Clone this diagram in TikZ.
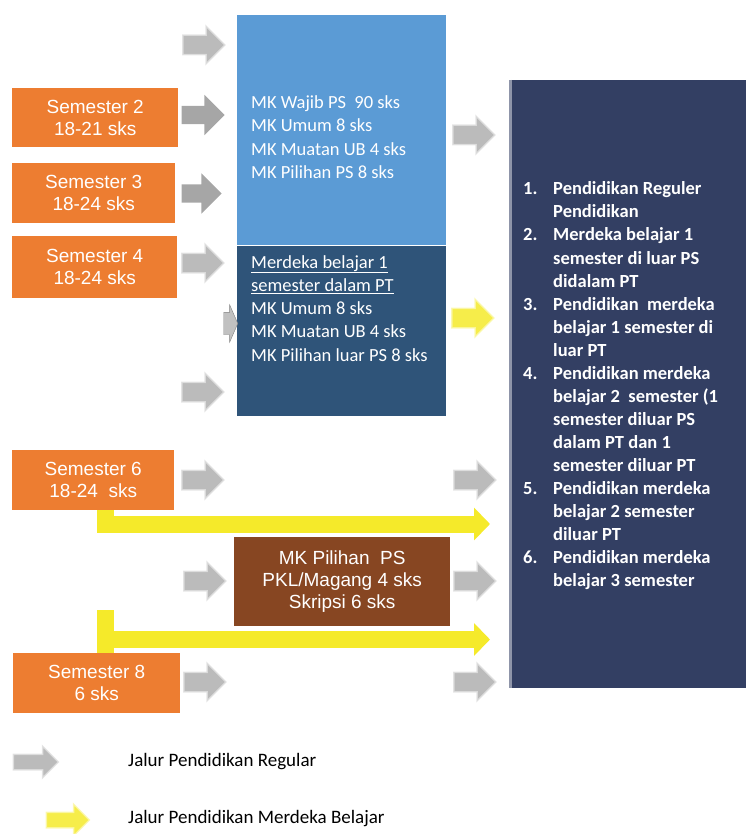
\documentclass[tikz,border=0pt]{standalone}
\usepackage{fontspec}
\setmainfont{Carlito}
\newfontfamily\arialfont{Liberation Sans}
\usetikzlibrary{shapes.arrows,arrows.meta,positioning}
\definecolor{semorange}{HTML}{ED7D31}
\definecolor{mkblue}{HTML}{5B9BD5}
\definecolor{mkdark}{HTML}{2F5479}
\definecolor{jalurnavy}{HTML}{333F63}
\definecolor{mkbrown}{HTML}{874622}
\definecolor{jaluryellow}{HTML}{F5EA2A}
\definecolor{jalurgray}{HTML}{A6A6A6}
\tikzset{
  sem/.style={fill=semorange, text=white, anchor=north west, inner sep=0pt,
    align=center, font=\arialfont\fontsize{19}{22}\selectfont},
  mkbox/.style={anchor=north west, inner sep=0pt, minimum width=209pt},
  mktext/.style={anchor=north west, inner sep=0pt, text=white,
    font=\fontsize{18.5}{23.3}\selectfont},
  regarrow/.style={shape=single arrow, single arrow head extend=11pt, inner xsep=0pt,
    inner ysep=9pt, minimum height=43pt, fill=jalurgray},
  fadearrow/.style={regarrow, single arrow head extend=9pt, fill=jalurgray!90,
    draw=jalurgray!35, line width=1.5pt, minimum height=42pt, opacity=0.85},
  jalurline/.style={draw=jaluryellow, line width=17pt}
}
\begin{document}
\begin{tikzpicture}[x=1pt, y=-1pt]
  \useasboundingbox (0,0) rectangle (746,834);

  % semester boxes
  \node[sem, minimum width=166pt, minimum height=59pt] (sem2) at (12,88) {Semester 2\\18-21 sks};
  \node[sem, minimum width=163pt, minimum height=60pt] (sem3) at (12,163) {Semester 3\\18-24 sks};
  \node[sem, minimum width=165pt, minimum height=62pt] (sem4) at (12,236) {Semester 4\\18-24 sks};
  \node[sem, minimum width=162pt, minimum height=60pt] (sem6) at (12,450) {Semester 6\\18-24\ \ sks};
  \node[sem, minimum width=167pt, minimum height=60pt] (sem8) at (13,653) {Semester 8\\6 sks};

  % MK boxes
  \node[mkbox, fill=mkblue, minimum height=230pt] (wajib) at (237,15) {};
  \node[mkbox, fill=mkdark, minimum height=170pt, below=0pt of wajib] (merdeka) {};
  \node[mktext] (wajibtxt) at (251,92) {\begin{tabular}{@{}l@{}}
    MK Wajib PS\ \ 90 sks\\ MK Umum 8 sks\\ MK Muatan UB 4 sks\\ MK Pilihan PS 8 sks
  \end{tabular}};
  \node[mktext] (merdekatxt) at (251,251.5) {\begin{tabular}{@{}l@{}}
    \underline{Merdeka belajar 1}\\ \underline{semester dalam PT}\\ MK Umum 8 sks\\
    MK Muatan UB 4 sks\\ MK Pilihan luar PS 8 sks
  \end{tabular}};
  \node[shape=single arrow, single arrow head extend=7.5pt, single arrow tip angle=133,
    inner xsep=0pt, inner ysep=11pt, minimum height=14pt, fill=jalurgray!70, draw=gray,
    anchor=tip] (inarrow) at (238,323.5) {};

  \node[fill=mkbrown, text=white, anchor=north west, minimum width=216pt, minimum height=89pt,
    align=center, font=\arialfont\fontsize{19}{22}\selectfont] (skripsi) at (234,537)
    {MK Pilihan\ \ PS\\PKL/Magang 4 sks\\Skripsi 6 sks};

  % jalur box
  \node[fill=jalurnavy, anchor=north west, inner sep=0pt, minimum width=237pt,
    minimum height=608pt] (jalur) at (509,80) {};
  \draw[jalurnavy!55!white, line width=3pt] ([xshift=1.5pt]jalur.north west) -- ([xshift=1.5pt]jalur.south west);
  \node[anchor=north west, inner sep=0pt, text=white, font=\bfseries\fontsize{18.5}{23.06}\selectfont]
    (jalurtxt) at (523,178.5) {\begin{tabular}{@{}l@{}l@{}}
    \makebox[30pt][l]{1.} & Pendidikan Reguler\\ & Pendidikan\\
    \makebox[30pt][l]{2.} & Merdeka belajar 1\\ & semester di luar PS\\ & didalam PT\\
    \makebox[30pt][l]{3.} & Pendidikan\ \ merdeka\\ & belajar 1 semester di\\ & luar PT\\
    \makebox[30pt][l]{4.} & Pendidikan merdeka\\ & belajar 2\ \ semester (1\\ & semester diluar PS\\
      & dalam PT dan 1\\ & semester diluar PT\\
    \makebox[30pt][l]{5.} & Pendidikan merdeka\\ & belajar 2 semester\\ & diluar PT\\
    \makebox[30pt][l]{6.} & Pendidikan merdeka\\ & belajar 3 semester
  \end{tabular}};

  % regular arrows
  \node[regarrow] (reg2) at (198.5,115) {};
  \node[regarrow, minimum height=40pt] (reg3) at (197,193.5) {};
  \foreach \x/\y [count=\i] in {199/45, 198/263, 198/392, 469/135, 198/480, 470/480,
      200/581, 470/581, 200/682, 470/682} {
    \node[fadearrow] (fade\i) at (\x,\y) {};
  }
  \node[fadearrow, fill=jaluryellow, draw=jaluryellow!40] (fadey) at (468,318) {};

  % merdeka belajar arrows
  \coordinate (sixend) at (490,524);
  \draw[jalurline, -{Triangle[length=16pt,width=32pt]}] ([xshift=93.5pt]sem6.south west) |- (sixend);
  \coordinate (eightstub) at ([xshift=92.5pt]sem8.north west);
  \coordinate (eightend) at (490,639.5);
  \draw[jalurline] (eightstub) -- ++(0,-43);
  \path (eightstub |- eightend) coordinate (eightbar);
  \draw[jalurline, -{Triangle[length=16pt,width=32pt]}] ([xshift=-8.5pt]eightbar) -- (eightend);

  % legend
  \node[fadearrow, inner ysep=7pt, single arrow head extend=8pt, minimum height=45pt] (legreg) at (32,762) {};
  \node[fadearrow, fill=jaluryellow, draw=jaluryellow!40, inner ysep=7pt, single arrow head extend=8pt,
    minimum height=43pt] (legmb) at (64,820) {};
  \node[anchor=west, inner sep=0pt, font=\fontsize{19}{22}\selectfont] (legregtxt) at (128,762) {Jalur Pendidikan Regular};
  \node[anchor=west, inner sep=0pt, font=\fontsize{19}{22}\selectfont] (legmbtxt) at (128,819) {Jalur Pendidikan Merdeka Belajar};
\end{tikzpicture}
\end{document}
